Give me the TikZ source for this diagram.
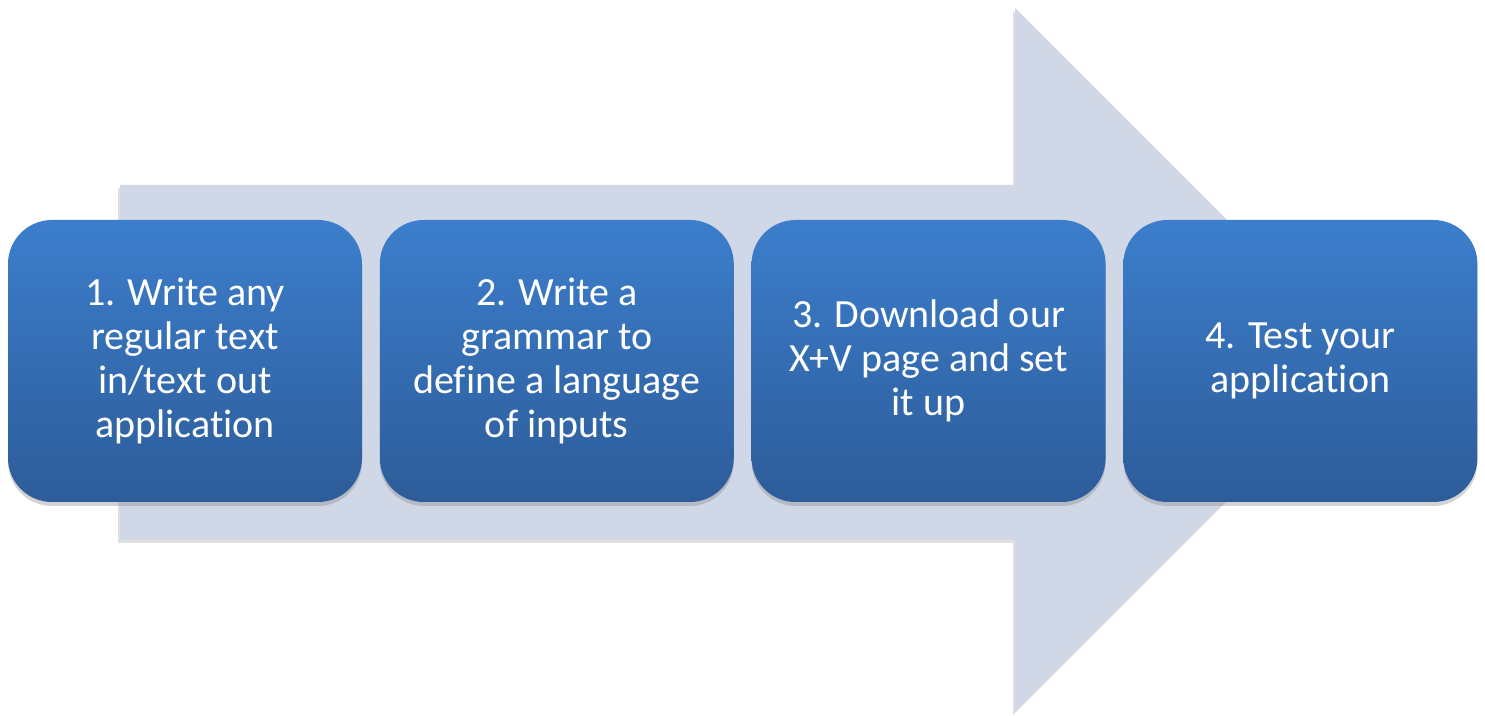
\documentclass[tikz,border=0pt]{standalone}
\usepackage{fontspec}
\setmainfont[Ligatures=NoCommon]{Carlito}
\usetikzlibrary{positioning, shadows}

\definecolor{arrowgray}{HTML}{D0D8E8}
\definecolor{boxtop}{HTML}{3C7ECC}
\definecolor{boxbot}{HTML}{2D5C99}

\begin{document}
\begin{tikzpicture}
  [
  x = 0.5pt, y = -0.5pt,
  % step boxes
  stepbox/.style = {rectangle, rounded corners=22pt, top color=boxtop,
    bottom color=boxbot, text=white, minimum width=177pt,
    minimum height=141pt, align=center,
    font=\fontsize{20}{22}\selectfont,
    drop shadow={opacity=0.35, shadow xshift=0pt, shadow yshift=-2pt}},
  % big arrow behind
  bigarrow/.style = {fill=arrowgray,
    drop shadow={opacity=0.25, shadow xshift=-1pt, shadow yshift=-1.5pt}},
  node distance = 8.5pt,
  ]

  \useasboundingbox (0,0) rectangle (1485,716);

  % arrow
  \path [bigarrow] (120,185) -- (1015,185) -- (1015,8) -- (1367,360)
    -- (1015,712) -- (1015,540) -- (120,540) -- cycle;

  % nodes
  \node [stepbox] (write) at (185,361)
    {1. Write any\\ regular text\\ in/text out\\ application};
  \node [stepbox, right= of write] (grammar)
    {2. Write a\\ grammar to\\ define a language\\ of inputs};
  \node [stepbox, right= of grammar] (download)
    {3. Download our\\ X+V page and set\\ it up};
  \node [stepbox, right= of download] (test)
    {4. Test your\\ application};

\end{tikzpicture}
\end{document}
